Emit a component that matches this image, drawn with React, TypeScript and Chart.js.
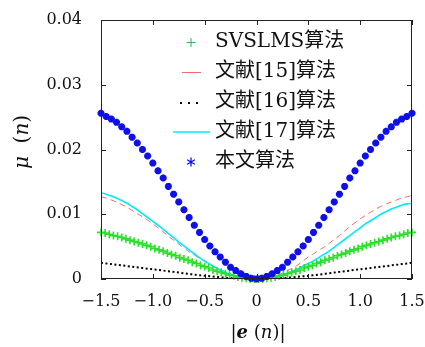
import React, { useEffect, useRef } from "react";
import { Chart, registerables } from "chart.js";

Chart.register(...registerables);

// ---------- data ----------
const seriesLabels = ["SVSLMS算法", "文献[15]算法", "文献[16]算法", "文献[17]算法", "本文算法"];

const xTickLabels = ["−1.5", "−1.0", "−0.5", "0", "0.5", "1.0", "1.5"];
const yTickLabels = ["0", "0.01", "0.02", "0.03", "0.04"];

const x61 = [
  -1.5, -1.45, -1.4, -1.35, -1.3, -1.25, -1.2, -1.15, -1.1, -1.05, -1, -0.95, -0.9, -0.85, -0.8, -0.75,
  -0.7, -0.65, -0.6, -0.55, -0.5, -0.45, -0.4, -0.35, -0.3, -0.25, -0.2, -0.15, -0.1, -0.05, 0,
  0.05, 0.1, 0.15, 0.2, 0.25, 0.3, 0.35, 0.4, 0.45, 0.5, 0.55, 0.6, 0.65, 0.7, 0.75, 0.8, 0.85,
  0.9, 0.95, 1, 1.05, 1.1, 1.15, 1.2, 1.25, 1.3, 1.35, 1.4, 1.45, 1.5,
];

const x76 = [
  -1.5, -1.46, -1.42, -1.38, -1.34, -1.3, -1.26, -1.22, -1.18, -1.14, -1.1, -1.06, -1.02, -0.98, -0.94,
  -0.9, -0.86, -0.82, -0.78, -0.74, -0.7, -0.66, -0.62, -0.58, -0.54, -0.5, -0.46, -0.42, -0.38, -0.34,
  -0.3, -0.26, -0.22, -0.18, -0.14, -0.1, -0.06, -0.02, 0.02, 0.06, 0.1, 0.14, 0.18, 0.22, 0.26, 0.3,
  0.34, 0.38, 0.42, 0.46, 0.5, 0.54, 0.58, 0.62, 0.66, 0.7, 0.74, 0.78, 0.82, 0.86, 0.9, 0.94, 0.98,
  1.02, 1.06, 1.1, 1.14, 1.18, 1.22, 1.26, 1.3, 1.34, 1.38, 1.42, 1.46, 1.5,
];

// SVSLMS (green +), sampled on x76
const svslms = [
  0.0072, 0.0071, 0.0069, 0.0067, 0.0066, 0.0064, 0.0062, 0.006, 0.0058, 0.0056, 0.0054, 0.0052, 0.005,
  0.0047, 0.0045, 0.0043, 0.004, 0.0038, 0.0036, 0.0033, 0.0031, 0.0029, 0.0026, 0.0024, 0.0021, 0.0019,
  0.0017, 0.0014, 0.0012, 0.001, 0.0008, 0.0006, 0.0005, 0.0003, 0.0002, 0.0001, 0.00005, 0.00001,
  0.00001, 0.00005, 0.0001, 0.0002, 0.0003, 0.0005, 0.0006, 0.0008, 0.001, 0.0012, 0.0014, 0.0017,
  0.0019, 0.0021, 0.0024, 0.0026, 0.0029, 0.0031, 0.0033, 0.0036, 0.0038, 0.004, 0.0043, 0.0045,
  0.0047, 0.005, 0.0052, 0.0054, 0.0056, 0.0058, 0.006, 0.0062, 0.0064, 0.0066, 0.0067, 0.0069,
  0.0071, 0.0072,
];

// 文献[15] (red dashed), sampled on x61
const ref15 = [
  0.0127, 0.0125, 0.0122, 0.0119, 0.0115, 0.0111, 0.0106, 0.0101, 0.0096, 0.0091, 0.0085, 0.0079,
  0.0073, 0.0066, 0.006, 0.0054, 0.0048, 0.0042, 0.0037, 0.0032, 0.0027, 0.0022, 0.0018, 0.0014,
  0.0011, 0.0008, 0.0005, 0.0003, 0.00013, 0.00003, 0,
  0.00003, 0.00012, 0.0003, 0.0006, 0.0009, 0.0013, 0.0017, 0.0022, 0.0028, 0.0034, 0.0039, 0.0044,
  0.0049, 0.0055, 0.0061, 0.0067, 0.0074, 0.0081, 0.0087, 0.0093, 0.0098, 0.0103, 0.0108, 0.0112,
  0.0116, 0.0119, 0.0122, 0.0125, 0.0127, 0.0129,
];

// 文献[16] (black dotted), sampled on x61
const ref16 = [
  0.0025, 0.0024, 0.0023, 0.0022, 0.0021, 0.002, 0.0019, 0.0018, 0.0017, 0.0016, 0.0015, 0.0014,
  0.0013, 0.0012, 0.0011, 0.00099, 0.00088, 0.00078, 0.00068, 0.00059, 0.0005, 0.00042, 0.00034,
  0.00027, 0.0002, 0.00015, 0.0001, 0.00006, 0.00003, 0.00001, 0,
  0.00001, 0.00003, 0.00006, 0.0001, 0.00015, 0.0002, 0.00027, 0.00034, 0.00042, 0.0005, 0.00059,
  0.00068, 0.00078, 0.00088, 0.00099, 0.0011, 0.0012, 0.0013, 0.0014, 0.0015, 0.0016, 0.0017, 0.0018,
  0.0019, 0.002, 0.0021, 0.0022, 0.0023, 0.0024, 0.0025,
];

// 文献[17] (cyan solid), sampled on x61
const ref17 = [
  0.0133, 0.0131, 0.0128, 0.0125, 0.0121, 0.0117, 0.0112, 0.0107, 0.0101, 0.0095, 0.0089, 0.0083,
  0.0077, 0.007, 0.0064, 0.0057, 0.0051, 0.0045, 0.0039, 0.0033, 0.0028, 0.0023, 0.0018, 0.0014,
  0.001, 0.0007, 0.0004, 0.0002, 0.0001, 0.00002, 0,
  0.00002, 0.0001, 0.0002, 0.0004, 0.0006, 0.0009, 0.0012, 0.0016, 0.002, 0.0024, 0.0028, 0.0033,
  0.0038, 0.0043, 0.0049, 0.0055, 0.0061, 0.0067, 0.0073, 0.0079, 0.0085, 0.009, 0.0095, 0.01,
  0.0104, 0.0108, 0.0111, 0.0114, 0.0116, 0.0117,
];

// 本文算法 (blue *), sampled on x61
const proposed = [
  0.0256, 0.0251, 0.0247, 0.0242, 0.0235, 0.0228, 0.0219, 0.021, 0.02, 0.019, 0.0179, 0.0167, 0.0156,
  0.0143, 0.0131, 0.0119, 0.0107, 0.0095, 0.0083, 0.0072, 0.0061, 0.0051, 0.0042, 0.0034, 0.0026,
  0.0018, 0.0013, 0.0008, 0.0004, 0.0001, 0,
  0.0001, 0.0004, 0.0008, 0.0013, 0.0018, 0.0026, 0.0034, 0.0042, 0.0051, 0.0061, 0.0072, 0.0083,
  0.0095, 0.0107, 0.0119, 0.0131, 0.0143, 0.0156, 0.0167, 0.0179, 0.019, 0.02, 0.021, 0.0219, 0.0228,
  0.0235, 0.0242, 0.0247, 0.0251, 0.0256,
];

// ---------- styling ----------
const SERIF = "'DejaVu Serif', 'Noto Sans CJK SC', serif";
const GREEN = "rgb(40,225,40)";
const RED = "rgb(235,110,110)";
const CYAN = "rgb(0,235,250)";
const BLUE = "rgb(15,15,235)";

const pts = (xv: number[], yv: number[]) => xv.map((x, i) => ({ x, y: yv[i] }));

type Piece = { t: string; f: string };
function drawPieces(ctx: CanvasRenderingContext2D, pieces: Piece[], cx: number, cy: number) {
  let total = 0;
  const widths = pieces.map((p) => {
    ctx.font = p.f;
    const w = ctx.measureText(p.t).width;
    total += w;
    return w;
  });
  let x = cx - total / 2;
  ctx.textBaseline = "middle";
  ctx.textAlign = "left";
  pieces.forEach((p, i) => {
    ctx.font = p.f;
    ctx.fillText(p.t, x, cy);
    x += widths[i];
  });
}

const decorPlugin = {
  id: "decor",
  afterDraw(chart: any) {
    const ctx: CanvasRenderingContext2D = chart.ctx;
    const { left, right, top, bottom } = chart.chartArea;
    ctx.save();
    // frame
    ctx.strokeStyle = "#222";
    ctx.lineWidth = 1;
    ctx.strokeRect(Math.round(left) + 0.5, Math.round(top) + 0.5, Math.round(right - left) - 1, Math.round(bottom - top) - 1);
    // inward ticks
    const sx = chart.scales.x;
    const sy = chart.scales.y;
    const TL = 5;
    ctx.beginPath();
    sx.ticks.forEach((_t: any, i: number) => {
      const px = Math.round(sx.getPixelForTick(i)) + 0.5;
      ctx.moveTo(px, bottom);
      ctx.lineTo(px, bottom - TL);
      ctx.moveTo(px, top);
      ctx.lineTo(px, top + TL);
    });
    sy.ticks.forEach((_t: any, i: number) => {
      const py = Math.round(sy.getPixelForTick(i)) + 0.5;
      ctx.moveTo(left, py);
      ctx.lineTo(left + TL, py);
      ctx.moveTo(right, py);
      ctx.lineTo(right - TL, py);
    });
    ctx.stroke();

    // legend
    const rowY = [42, 72, 102, 132, 162];
    const textX = 215;
    ctx.font = `20px ${SERIF}`;
    ctx.textAlign = "left";
    ctx.textBaseline = "middle";
    chart.data.datasets.forEach((ds: any, i: number) => {
      ctx.fillStyle = "#111";
      ctx.fillText(ds.label, textX, rowY[i]);
    });
    // green +
    ctx.strokeStyle = "rgb(50,175,90)";
    ctx.lineWidth = 1;
    ctx.beginPath();
    ctx.moveTo(186.5, rowY[0] + 0.5);
    ctx.lineTo(195.5, rowY[0] + 0.5);
    ctx.moveTo(191, rowY[0] - 4);
    ctx.lineTo(191, rowY[0] + 5);
    ctx.stroke();
    // red line
    ctx.strokeStyle = RED;
    ctx.beginPath();
    ctx.moveTo(182, rowY[1] + 0.5);
    ctx.lineTo(201, rowY[1] + 0.5);
    ctx.stroke();
    // black dots
    ctx.fillStyle = "#000";
    [180, 188, 196].forEach((dx) => ctx.fillRect(dx, rowY[2], 2, 2));
    // cyan line
    ctx.strokeStyle = CYAN;
    ctx.lineWidth = 1.6;
    ctx.beginPath();
    ctx.moveTo(173, rowY[3]);
    ctx.lineTo(210, rowY[3]);
    ctx.stroke();
    // blue asterisk
    ctx.strokeStyle = BLUE;
    ctx.lineWidth = 1.3;
    ctx.beginPath();
    for (let k = 0; k < 3; k++) {
      const a = Math.PI / 2 + (k * Math.PI) / 3;
      ctx.moveTo(191 + 4.5 * Math.cos(a), rowY[4] + 4.5 * Math.sin(a));
      ctx.lineTo(191 - 4.5 * Math.cos(a), rowY[4] - 4.5 * Math.sin(a));
    }
    ctx.stroke();

    // axis titles
    ctx.fillStyle = "#111";
    drawPieces(
      ctx,
      [
        { t: "|", f: `18px ${SERIF}` },
        { t: "e", f: `italic bold 18px ${SERIF}` },
        { t: " (", f: `18px ${SERIF}` },
        { t: "n", f: `italic 18px ${SERIF}` },
        { t: ")|", f: `18px ${SERIF}` },
      ],
      258,
      333
    );
    ctx.translate(23, 142);
    ctx.rotate(-Math.PI / 2);
    drawPieces(
      ctx,
      [
        { t: "μ", f: `italic 20px ${SERIF}` },
        { t: "  (", f: `20px ${SERIF}` },
        { t: "n", f: `italic 20px ${SERIF}` },
        { t: ")", f: `20px ${SERIF}` },
      ],
      0,
      0
    );
    ctx.restore();
  },
};

export default function App() {
  const ref = useRef<HTMLCanvasElement | null>(null);
  useEffect(() => {
    if (!ref.current) return;
    const chart = new Chart(ref.current, {
      type: "scatter",
      data: {
        datasets: [
          {
            label: seriesLabels[0],
            data: pts(x76, svslms),
            showLine: false,
            pointStyle: "cross",
            pointRadius: 4,
            pointBorderWidth: 1.6,
            borderColor: GREEN,
            backgroundColor: GREEN,
            order: 1,
            clip: 8,
          },
          {
            label: seriesLabels[1],
            data: pts(x61, ref15),
            showLine: true,
            borderColor: RED,
            borderWidth: 1,
            borderDash: [6, 4],
            pointRadius: 0,
            cubicInterpolationMode: "monotone",
            order: 3,
          },
          {
            label: seriesLabels[2],
            data: pts(x61, ref16),
            showLine: true,
            borderColor: "#000",
            borderWidth: 2,
            borderDash: [2, 2.5],
            pointRadius: 0,
            cubicInterpolationMode: "monotone",
            order: 4,
          },
          {
            label: seriesLabels[3],
            data: pts(x61, ref17),
            showLine: true,
            borderColor: CYAN,
            borderWidth: 1.6,
            pointRadius: 0,
            cubicInterpolationMode: "monotone",
            order: 2,
          },
          {
            label: seriesLabels[4],
            data: pts(x61, proposed),
            showLine: false,
            pointStyle: "star",
            pointRadius: 3.5,
            pointBorderWidth: 2.4,
            borderColor: BLUE,
            backgroundColor: BLUE,
            order: 0,
            clip: 8,
          },
        ],
      },
      options: {
        animation: false,
        responsive: false,
        layout: { padding: { left: 0, top: 20, right: 13, bottom: 0 } },
        plugins: { legend: { display: false }, tooltip: { enabled: false } },
        scales: {
          x: {
            type: "linear",
            min: -1.5,
            max: 1.5,
            grid: { display: false },
            border: { display: false },
            afterFit: (s: any) => {
              s.height = 68;
              s.paddingLeft = 0;
              s.paddingRight = 0;
            },
            ticks: {
              stepSize: 0.5,
              maxRotation: 0,
              padding: 5,
              color: "#111",
              font: { family: SERIF, size: 16 },
              callback: (_v: any, i: number) => xTickLabels[i],
            },
          },
          y: {
            type: "linear",
            min: 0,
            max: 0.04,
            grid: { display: false },
            border: { display: false },
            afterFit: (s: any) => {
              s.width = 101;
              s.paddingTop = 0;
              s.paddingBottom = 0;
            },
            ticks: {
              stepSize: 0.01,
              padding: 11,
              color: "#111",
              font: { family: SERIF, size: 16 },
              callback: (_v: any, i: number) => yTickLabels[i],
            },
          },
        },
      },
      plugins: [decorPlugin],
    });
    return () => chart.destroy();
  }, []);
  return (
    <div style={{ position: "fixed", left: 0, top: 0, width: 425, height: 347, background: "#fff" }}>
      <canvas ref={ref} width={425} height={347} />
    </div>
  );
}
